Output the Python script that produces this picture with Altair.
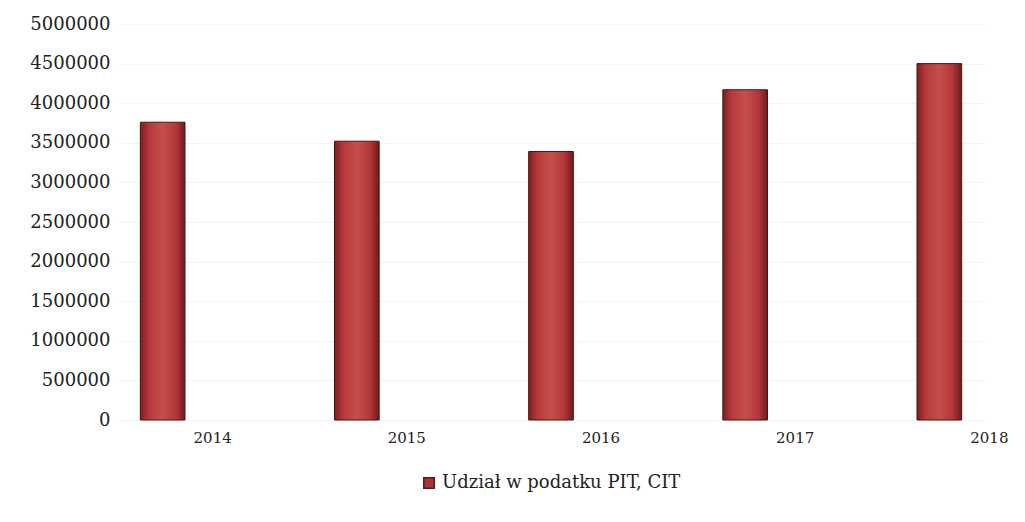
import altair as alt
import pandas as pd

years = ["2014", "2015", "2016", "2017", "2018"]
values = [3760000, 3520000, 3390000, 4170000, 4500000]
series = ["Udział w podatku PIT, CIT"] * 5
y_ticks = [0, 500000, 1000000, 1500000, 2000000, 2500000, 3000000, 3500000, 4000000, 4500000, 5000000]

df = pd.DataFrame({"rok": years, "wartosc": values, "seria": series})

FONT = "DejaVu Serif"

fill = alt.Gradient(
    gradient="linear",
    stops=[
        alt.GradientStop(color="#7a1e20", offset=0),
        alt.GradientStop(color="#b8393c", offset=0.2),
        alt.GradientStop(color="#c4504a", offset=0.5),
        alt.GradientStop(color="#b3363a", offset=0.8),
        alt.GradientStop(color="#6e1a1c", offset=1),
    ],
    x1=0, x2=1, y1=0, y2=0,
)

chart = (
    alt.Chart(df)
    .mark_bar(fill=fill, stroke="#4a1414", strokeWidth=1)
    .encode(
        x=alt.X(
            "rok:N",
            title=None,
            scale=alt.Scale(paddingInner=0.77, paddingOuter=0.115),
            axis=alt.Axis(
                labelAngle=0, labelOffset=50, labelPadding=10, ticks=False, domain=False,
                labelFont=FONT, labelFontSize=15, labelColor="#222", grid=False,
            ),
        ),
        y=alt.Y(
            "wartosc:Q",
            title=None,
            scale=alt.Scale(domain=[0, 5000000]),
            axis=alt.Axis(
                values=y_ticks, format="d", ticks=False, domain=False,
                labelFont=FONT, labelFontSize=18, labelColor="#222", labelPadding=8,
                grid=True, gridColor="#f3f3f3",
            ),
        ),
        color=alt.Color(
            "seria:N",
            scale=alt.Scale(range=["#a8353a"]),
            legend=alt.Legend(
                title=None, orient="none", legendX=302, legendY=450,
                symbolType="square", symbolSize=110, symbolStrokeColor="#5a1a1a",
                labelFont=FONT, labelFontSize=18, labelColor="#222", labelLimit=0,
            ),
        ),
    )
    .properties(
        width=866, height=396,
        background="white",
        autosize=alt.AutoSizeParams(type="none"),
        padding={"left": 110, "top": 16, "right": 24, "bottom": 90},
    )
    .configure_view(strokeWidth=0, stroke="transparent")
)

chart.save("out.html", embed_options={"renderer": "svg", "actions": False})
